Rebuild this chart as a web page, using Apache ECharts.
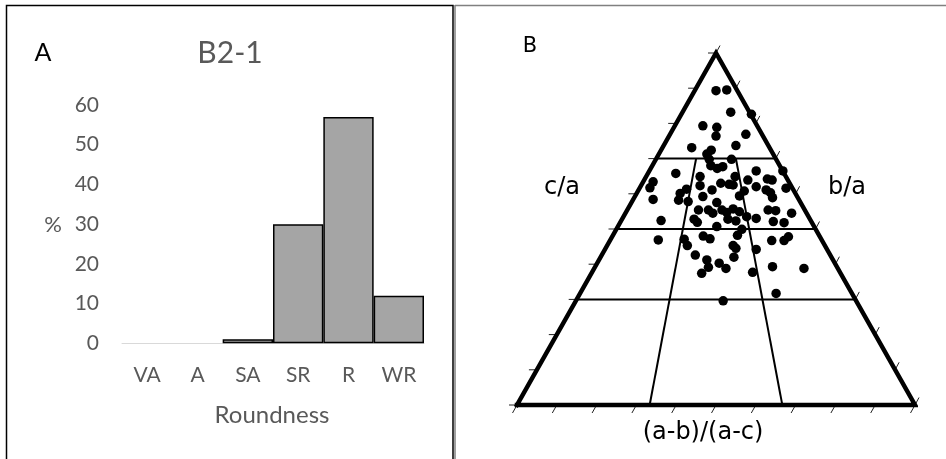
<!DOCTYPE html>
<html>
<head>
<meta charset="utf-8">
<script src="https://cdn.jsdelivr.net/npm/echarts@6/dist/echarts.min.js"></script>
<style>
html,body{margin:0;padding:0;background:#fff;}
#chart{width:946px;height:459px;}
</style>
</head>
<body>
<div id="chart"></div>
<script>
// ---------- Panel A data ----------
const categories = ['VA', 'A', 'SA', 'SR', 'R', 'WR'];
const roundnessPct = [0, 0, 1, 30, 57, 12];
const yMin = 0, yMax = 60, yInterval = 10;

// ---------- Panel B data (Sneed & Folk ternary, x: across base 0-100, y: c/a height 0-100) ----------
const ternaryPoints = [
  [50.0,89.3],[52.7,89.5],[53.7,83.2],[58.9,82.6],[46.7,79.3],[50.2,78.9],[50.0,76.4],[57.5,76.9],
  [43.9,73.1],[55.0,73.7],[48.8,72.4],[47.7,71.3],[48.3,69.8],[53.9,69.8],[48.7,68.0],[50.3,67.2],
  [51.7,67.7],[66.8,66.5],[60.1,66.5],[39.9,65.8],[34.2,63.4],[33.4,61.7],[34.2,58.4],[46.0,64.9],
  [46.0,62.3],[54.8,64.9],[51.2,63.0],[53.3,62.7],[54.3,62.5],[58.0,63.9],[62.9,64.2],[64.1,63.9],
  [62.6,61.1],[63.7,60.3],[64.2,58.9],[67.6,61.6],[60.1,62.0],[49.0,61.1],[42.6,61.3],[41.0,60.1],
  [40.6,58.2],[43.0,57.8],[46.7,59.2],[55.9,59.4],[57.1,60.8],[50.2,57.5],[45.6,55.4],[48.1,55.4],
  [49.2,54.5],[51.5,55.4],[52.7,54.7],[54.3,55.7],[55.9,54.9],[57.7,53.5],[60.1,53.0],[53.0,52.8],
  [55.0,52.3],[63.1,55.4],[65.0,55.2],[69.0,54.5],[44.5,52.8],[45.3,51.9],[64.4,52.1],[67.1,51.8],
  [36.2,52.4],[50.2,50.7],[56.5,49.9],[35.5,46.9],[42.0,47.1],[42.8,45.3],[46.8,48.0],[48.5,47.2],
  [55.4,48.2],[64.0,46.7],[67.1,46.7],[68.2,47.8],[54.3,45.3],[55.0,44.5],[60.1,44.2],[44.8,42.6],
  [47.7,41.2],[48.1,39.1],[50.8,40.3],[52.5,38.8],[54.5,42.0],[46.4,37.4],[59.2,37.7],[64.2,39.3],
  [72.1,38.8],[65.1,31.7],[51.8,29.6]
];
const cOverALevels = [30, 50, 70];          // horizontal class boundaries
const abacLevels = [1/3, 2/3];              // (a-b)/(a-c) boundaries
const abacTop = 70;                         // those boundaries run from base up to c/a = 0.7
const tickValues = [0,10,20,30,40,50,60,70,80,90,100];

// ---------- build geometry from the data ----------
const outline = [[0,0],[100,0],[50,100],[0,0]];
const gridLines = [];
cOverALevels.forEach(s => gridLines.push([[s/2, s], [100 - s/2, s]]));
abacLevels.forEach(t => gridLines.push([[t*100, 0], [abacTop/2 + t*(100 - abacTop), abacTop]]));

const tickData = [];
tickValues.forEach(v => {
  tickData.push([v, 0, 0]);               // bottom
  tickData.push([v/2, v, 1]);             // left side
  tickData.push([100 - v/2, v, 2]);       // right side
});
const tickOffsets = [[-4.5, 8], [-8, 0], [4, -7.5]];

const barData = roundnessPct.map(v => v === 0
  ? {value: v, itemStyle: {borderWidth: 0}}
  : v);

const FONT_A = 'Lato';
const FONT_B = '"DejaVu Sans"';

const series = [
  {
    type: 'bar', xAxisIndex: 0, yAxisIndex: 0,
    data: barData,
    barCategoryGap: '0%',
    itemStyle: {color: '#A5A5A5', borderColor: '#000', borderWidth: 1.5},
    silent: true
  },
  {
    type: 'line', xAxisIndex: 1, yAxisIndex: 1,
    data: outline, symbol: 'none', clip: false, silent: true,
    lineStyle: {color: '#000', width: 4.5, join: 'miter', cap: 'square'}
  }
];
gridLines.forEach(seg => series.push({
  type: 'line', xAxisIndex: 1, yAxisIndex: 1,
  data: seg, symbol: 'none', clip: false, silent: true,
  lineStyle: {color: '#000', width: 2}
}));
series.push({
  type: 'custom', xAxisIndex: 1, yAxisIndex: 1, clip: false, silent: true,
  data: tickData,
  renderItem: function (params, api) {
    const p = api.coord([api.value(0), api.value(1)]);
    const o = tickOffsets[api.value(2)];
    return {type: 'line', shape: {x1: p[0], y1: p[1], x2: p[0] + o[0], y2: p[1] + o[1]},
            style: {stroke: '#222', lineWidth: 1}};
  }
});
series.push({
  type: 'scatter', xAxisIndex: 1, yAxisIndex: 1, clip: false, silent: true,
  data: ternaryPoints, symbol: 'circle', symbolSize: 9.5,
  itemStyle: {color: '#000', opacity: 1}
});

function txt(text, x, y, font, color, align) {
  return {type: 'text', x: x, y: y, silent: true,
    style: {text: text, font: font, fill: color,
      align: align || 'center', verticalAlign: 'middle',
      textAlign: align || 'center', textVerticalAlign: 'middle'}};
}

const option = {
  animation: false,
  backgroundColor: '#fff',
  grid: [
    {left: 122, top: 105, width: 302, height: 238.3, containLabel: false},
    {left: 517, top: 53, width: 398, height: 352, containLabel: false}
  ],
  xAxis: [
    {type: 'category', gridIndex: 0, data: categories,
     axisLine: {lineStyle: {color: '#D9D9D9', width: 1}},
     axisTick: {show: false},
     axisLabel: {color: '#595959', fontFamily: FONT_A, fontSize: 21, margin: 21},
     splitLine: {show: false}},
    {type: 'value', gridIndex: 1, min: 0, max: 100, show: false}
  ],
  yAxis: [
    {type: 'value', gridIndex: 0, min: yMin, max: yMax, interval: yInterval,
     axisLine: {show: false}, axisTick: {show: false}, splitLine: {show: false},
     axisLabel: {color: '#595959', fontFamily: FONT_A, fontSize: 21, margin: 23}},
    {type: 'value', gridIndex: 1, min: 0, max: 100, show: false}
  ],
  series: series,
  graphic: [
    {type: 'rect', silent: true, shape: {x: 6.5, y: 5.5, width: 446.5, height: 460},
     style: {fill: 'none', stroke: '#000', lineWidth: 1.5}},
    {type: 'line', silent: true, shape: {x1: 455, y1: 5.5, x2: 946, y2: 5.5},
     style: {stroke: '#808080', lineWidth: 1.5}},
    {type: 'line', silent: true, shape: {x1: 455, y1: 5, x2: 455, y2: 459},
     style: {stroke: '#808080', lineWidth: 1.5}},
    txt('A', 43, 53, '25px ' + FONT_A, '#000'),
    txt('B2-1', 230, 53, '30px ' + FONT_A, '#595959'),
    txt('%', 53, 225, '22px ' + FONT_A, '#595959'),
    txt('Roundness', 272, 415, '24px ' + FONT_A, '#595959'),
    txt('B', 530, 47, '21px ' + FONT_B, '#000'),
    txt('c/a', 562, 188, '24px ' + FONT_B, '#000'),
    txt('b/a', 847, 188, '24px ' + FONT_B, '#000'),
    txt('(a-b)/(a-c)', 703, 433, '24px ' + FONT_B, '#000')
  ]
};

const chart = echarts.init(document.getElementById('chart'), null, {renderer: 'canvas'});
chart.setOption(option);
</script>
</body>
</html>
